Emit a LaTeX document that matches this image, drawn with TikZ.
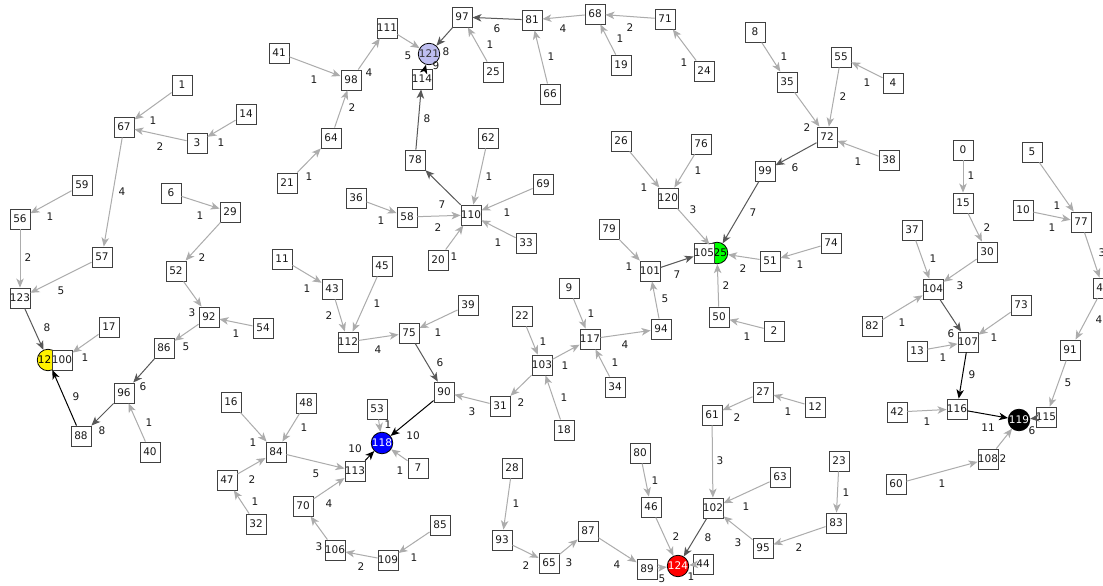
\documentclass[tikz,border=0pt]{standalone}
\usepackage{fontspec}
\setmainfont{DejaVu Sans}
\usetikzlibrary{arrows.meta}
\definecolor{edgelite}{RGB}{172,172,172}
\definecolor{edgemid}{RGB}{88,88,88}
\definecolor{lavender}{RGB}{190,190,240}
\newcommand{\gedge}[5]{\draw[#1] (n#2) -- (n#3); \node[wlab] at (#5) {#4};}
\begin{document}
\begin{tikzpicture}[x=1pt,y=-1pt,
  nfont/.style={font=\fontsize{10.5}{12}\selectfont},
  box/.style={nfont, draw=black!75, line width=0.9pt, fill=white, minimum width=20pt, minimum height=20pt, inner sep=0pt, text=black!90},
  sink/.style={nfont, circle, draw=black, line width=0.8pt, minimum size=21pt, inner sep=0pt},
  wlab/.style={nfont, inner sep=0pt, text=black!90},
  tip/.style={-{Stealth[length=9pt,width=7.5pt,inset=2.5pt]}},
  lite/.style={tip, draw=edgelite, line width=1pt},
  mid/.style={tip, draw=edgemid, line width=1pt},
  heavy/.style={tip, draw=black, line width=1pt}]
\useasboundingbox (0,0) rectangle (1103,586);
\fill[white] (0,0) rectangle (1103,586);

% sink nodes (drawn first so the boxes sit above them)
\node[sink, fill=blue, text=white] (n118) at (382,443) {118};
\node[sink, fill=black, text=white] (n119) at (1019,420) {119};
\node[sink, fill=lavender, text=black!80] (n121) at (429,54) {121};
\node[sink, fill=yellow] (n122) at (48,360) {122};
\node[sink, fill=red, text=white] (n124) at (678,566) {124};
\node[sink, fill=green] (n125) at (717,253) {125};

% ordinary nodes
\foreach \i/\x/\y in {
 0/963/150, 1/182/85, 2/774/331, 3/197/143, 4/893/83, 5/1032/152, 6/171/193,
 7/418/468, 8/755/32, 9/569/288, 10/1023/210, 11/282/259, 12/815/407,
 13/917/351, 14/246/114, 15/963/203, 16/231/402, 17/109/327, 18/564/430,
 19/621/65, 20/438/260, 21/287/183, 22/522/316, 23/839/461, 24/704/71,
 25/493/72, 26/621/141, 27/763/392, 28/512/468, 29/230/212, 30/987/252,
 31/500/406, 32/256/524, 33/526/243, 34/615/387, 35/787/82, 36/356/198,
 37/912/230, 38/889/160, 39/468/305, 40/150/452, 41/279/53, 42/897/412,
 43/332/289, 44/703/564, 45/382/266, 46/651/507, 47/227/480, 48/306/403,
 49/1103/288, 50/719/317, 51/770/261, 52/176/271, 53/377/409, 54/263/328,
 55/841/57, 56/20/219, 57/102/257, 58/407/217, 59/82/185, 60/896/484,
 61/712/415, 62/488/138, 63/780/477, 64/331/138, 65/549/563, 66/550/94,
 67/124/127, 68/595/14, 69/543/184, 70/303/506, 71/665/19, 72/827/137,
 73/1021/305, 74/831/243, 75/409/333, 76/701/144, 77/1081/222, 78/415/160,
 79/609/229, 80/640/453, 81/532/20, 82/872/326, 83/836/523, 84/276/452,
 85/440/525, 86/164/348, 87/588/531, 88/81/436, 89/647/569, 90/444/392,
 91/1070/350, 92/209/317, 93/502/540, 94/661/329, 95/763/548, 96/124/393,
 97/462/17, 98/351/80, 99/765/171, 100/62/360, 101/650/271, 102/713/508,
 103/542/365, 104/933/289, 105/704/253, 106/335/550, 107/968/342,
 108/988/459, 109/388/560, 110/471/215, 111/387/28, 112/348/342,
 113/355/471, 114/422/79, 115/1046/417, 116/957/409, 117/590/339,
 120/668/198, 123/20/298}
  \node[box] (n\i) at (\x,\y) {\i};

% connectors with their weights
\gedge{lite}{1}{67}{1}{153,121}
\gedge{lite}{3}{67}{2}{160,147}
\gedge{lite}{14}{3}{1}{221,143}
\gedge{lite}{67}{57}{4}{122,192}
\gedge{lite}{59}{56}{1}{50,217}
\gedge{lite}{56}{123}{2}{28,258}
\gedge{lite}{57}{123}{5}{61,291}
\gedge{mid}{123}{122}{8}{47,328}
\gedge{lite}{17}{100}{1}{85,358}
\gedge{heavy}{88}{122}{9}{76,397}
\gedge{lite}{6}{29}{1}{200,216}
\gedge{lite}{29}{52}{2}{202,258}
\gedge{lite}{52}{92}{3}{192,313}
\gedge{lite}{54}{92}{1}{236,334}
\gedge{lite}{92}{86}{5}{186,347}
\gedge{mid}{86}{96}{6}{143,387}
\gedge{mid}{96}{88}{8}{102,431}
\gedge{lite}{40}{96}{1}{149,423}

\gedge{lite}{41}{98}{1}{314,80}
\gedge{lite}{98}{111}{4}{369,73}
\gedge{lite}{64}{98}{2}{352,108}
\gedge{lite}{21}{64}{1}{309,177}
\gedge{lite}{111}{121}{5}{408,56}
\gedge{mid}{97}{121}{8}{446,52}
\gedge{heavy}{114}{121}{9}{436,66}
\gedge{mid}{78}{114}{8}{427,119}
\gedge{mid}{110}{78}{7}{442,205}
\gedge{mid}{81}{97}{6}{497,29}
\gedge{lite}{25}{97}{1}{490,45}
\gedge{lite}{66}{81}{1}{551,57}
\gedge{lite}{68}{81}{4}{563,29}
\gedge{lite}{71}{68}{2}{630,28}
\gedge{lite}{19}{68}{1}{620,39}
\gedge{lite}{24}{71}{1}{684,63}
\gedge{lite}{62}{110}{1}{489,177}
\gedge{lite}{69}{110}{1}{507,213}
\gedge{lite}{58}{110}{2}{438,228}
\gedge{lite}{36}{58}{1}{381,221}
\gedge{lite}{33}{110}{1}{498,243}
\gedge{lite}{20}{110}{1}{454,257}

\gedge{lite}{8}{35}{1}{784,57}
\gedge{lite}{35}{72}{2}{807,128}
\gedge{lite}{55}{72}{2}{843,97}
\gedge{lite}{4}{55}{1}{867,83}
\gedge{lite}{38}{72}{1}{858,162}
\gedge{mid}{72}{99}{6}{795,168}
\gedge{mid}{99}{125}{7}{753,213}
\gedge{lite}{26}{120}{1}{644,188}
\gedge{lite}{76}{120}{1}{698,171}
\gedge{lite}{120}{125}{3}{693,210}
\gedge{lite}{79}{101}{1}{629,267}
\gedge{mid}{101}{105}{7}{677,275}
\gedge{lite}{51}{125}{2}{743,269}
\gedge{lite}{74}{51}{1}{800,265}
\gedge{lite}{50}{125}{2}{726,286}
\gedge{lite}{2}{50}{1}{747,337}
\gedge{lite}{94}{101}{5}{665,299}
\gedge{lite}{117}{94}{4}{625,345}
\gedge{lite}{9}{117}{1}{591,314}
\gedge{lite}{103}{117}{1}{565,366}
\gedge{lite}{34}{117}{1}{615,363}
\gedge{lite}{22}{103}{1}{543,342}
\gedge{lite}{18}{103}{1}{564,398}
\gedge{lite}{103}{31}{2}{521,403}
\gedge{lite}{31}{90}{3}{472,412}
\gedge{mid}{75}{90}{6}{440,363}
\gedge{heavy}{90}{118}{10}{413,436}
\gedge{lite}{39}{75}{1}{438,333}
\gedge{lite}{112}{75}{4}{378,350}
\gedge{lite}{45}{112}{1}{377,304}
\gedge{lite}{43}{112}{2}{329,316}
\gedge{lite}{11}{43}{1}{307,289}

\gedge{lite}{16}{84}{1}{253,443}
\gedge{lite}{47}{84}{2}{252,480}
\gedge{lite}{32}{47}{1}{255,502}
\gedge{lite}{48}{84}{1}{304,428}
\gedge{lite}{84}{113}{5}{316,474}
\gedge{lite}{70}{113}{4}{329,504}
\gedge{lite}{106}{70}{3}{319,547}
\gedge{lite}{109}{106}{2}{361,567}
\gedge{lite}{85}{109}{1}{414,558}
\gedge{heavy}{113}{118}{10}{355,449}
\gedge{lite}{53}{118}{1}{388,425}
\gedge{lite}{7}{118}{1}{400,471}

\gedge{lite}{28}{93}{1}{516,504}
\gedge{lite}{93}{65}{2}{526,566}
\gedge{lite}{65}{87}{3}{569,563}
\gedge{lite}{87}{89}{4}{617,565}
\gedge{lite}{89}{124}{5}{662,579}
\gedge{lite}{46}{124}{2}{676,537}
\gedge{lite}{80}{46}{1}{655,481}
\gedge{mid}{102}{124}{8}{708,538}
\gedge{lite}{44}{124}{1}{691,577}
\gedge{lite}{61}{102}{3}{720,461}
\gedge{lite}{27}{61}{2}{737,418}
\gedge{lite}{12}{27}{1}{788,412}
\gedge{lite}{63}{102}{1}{746,507}
\gedge{lite}{95}{102}{3}{738,543}
\gedge{lite}{83}{95}{2}{799,548}
\gedge{lite}{23}{83}{1}{846,493}

\gedge{lite}{0}{15}{1}{971,176}
\gedge{lite}{15}{30}{2}{987,228}
\gedge{lite}{30}{104}{3}{960,286}
\gedge{lite}{37}{104}{1}{933,259}
\gedge{lite}{82}{104}{1}{902,323}
\gedge{mid}{104}{107}{6}{951,334}
\gedge{lite}{73}{107}{1}{994,338}
\gedge{lite}{13}{107}{1}{943,358}
\gedge{heavy}{107}{116}{9}{972,375}
\gedge{lite}{42}{116}{1}{927,422}
\gedge{heavy}{116}{119}{11}{988,428}
\gedge{lite}{108}{119}{2}{1003,459}
\gedge{lite}{60}{108}{1}{942,484}
\gedge{mid}{115}{119}{6}{1032,431}
\gedge{lite}{91}{115}{5}{1068,383}
\gedge{lite}{49}{91}{4}{1099,320}
\gedge{lite}{77}{49}{3}{1102,253}
\gedge{lite}{5}{77}{1}{1057,206}
\gedge{lite}{10}{77}{1}{1052,228}
\end{tikzpicture}
\end{document}
